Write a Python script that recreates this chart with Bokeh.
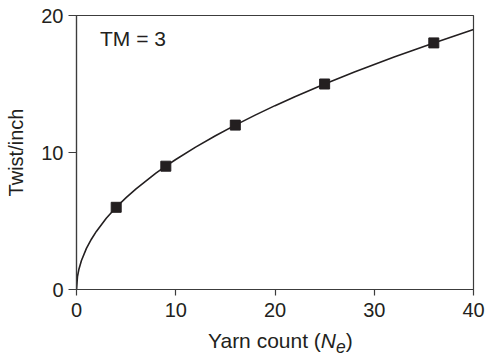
from bokeh.plotting import figure
from bokeh.models import Range1d, FixedTicker, Label, Div
from bokeh.layouts import column
from bokeh.embed import file_html
from bokeh.resources import INLINE

# Data
curve_count = [0, 0.1, 0.25, 0.5, 1, 1.5, 2, 3, 4, 5, 6, 8, 9, 10, 12, 14, 16, 18,
               20, 22, 25, 28, 30, 32, 34, 36, 38, 40]
curve_twist = [0, 0.95, 1.5, 2.12, 3.0, 3.67, 4.24, 5.2, 6.0, 6.71, 7.35, 8.49, 9.0,
               9.49, 10.39, 11.22, 12.0, 12.73, 13.42, 14.07, 15.0, 15.87, 16.43,
               16.97, 17.49, 18.0, 18.49, 18.97]
point_count = [4, 9, 16, 25, 36]
point_twist = [6, 9, 12, 15, 18]
x_ticks = [0, 10, 20, 30, 40]
y_ticks = [0, 10, 20]
annotation = "TM = 3"
x_title_html = "Yarn count (<i>N</i><sub><i>e</i></sub>)"

FONT = "Liberation Sans"
FS = "20px"
FS_BIG = "21px"
INK = "#231f20"
AXIS = "#3c3c3c"

p = figure(width=487, height=325, output_backend="svg", toolbar_location=None,
           x_range=Range1d(0, 40), y_range=Range1d(0, 20),
           min_border_left=76, min_border_right=14, min_border_top=15,
           min_border_bottom=36)
p.grid.visible = False
p.background_fill_color = "white"
p.border_fill_color = "white"
p.outline_line_color = AXIS
p.outline_line_width = 1.2

for ax in (p.xaxis[0], p.yaxis[0]):
    ax.axis_line_color = AXIS
    ax.axis_line_width = 1.2
    ax.major_tick_line_color = AXIS
    ax.major_tick_line_width = 1.2
    ax.minor_tick_line_color = None
    ax.major_tick_in = 0
    ax.major_label_text_font = FONT
    ax.major_label_text_font_size = FS
    ax.major_label_text_color = INK
    ax.axis_label_text_font = FONT
    ax.axis_label_text_font_size = FS
    ax.axis_label_text_font_style = "normal"
    ax.axis_label_text_color = INK

p.xaxis.ticker = FixedTicker(ticks=x_ticks)
p.yaxis.ticker = FixedTicker(ticks=y_ticks)
p.xaxis.major_tick_out = 6
p.yaxis.major_tick_out = 8
p.xaxis.major_label_standoff = 7
p.yaxis.major_label_standoff = 5
p.yaxis.axis_label = "Twist/inch"
p.yaxis.axis_label_standoff = 11

p.line(curve_count, curve_twist, line_color=INK, line_width=1.6)
p.scatter(point_count, point_twist, marker="square", size=10,
          fill_color=INK, line_color=INK)

p.add_layout(Label(x=2.37, y=18.35, text=annotation, text_font=FONT,
                   text_font_size=FS_BIG, text_color=INK, text_baseline="alphabetic"))

title = Div(text=x_title_html, width=487, height=32, margin=(0, 0, 0, 0),
            styles={"font-family": FONT, "font-size": FS_BIG, "color": INK,
                    "padding-left": "208px", "padding-top": "4px",
                    "white-space": "nowrap", "line-height": "1.15",
                    "box-sizing": "border-box"})

layout = column(p, title, spacing=0)

open("out.html", "w").write(file_html(layout, INLINE))
